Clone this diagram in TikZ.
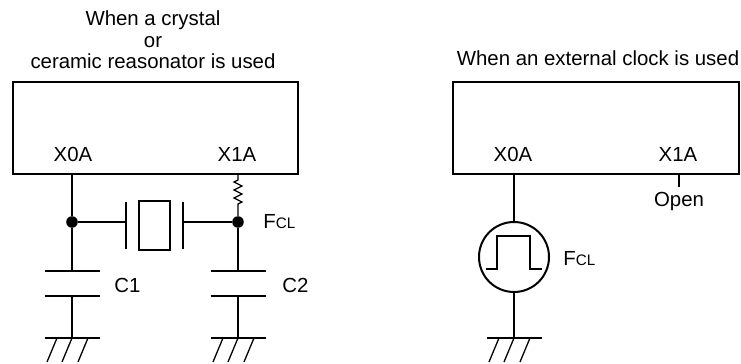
\documentclass[tikz,border=0pt]{standalone}
\usepackage{fontspec}
\setmainfont{Liberation Sans}
\usetikzlibrary{fit}
\begin{document}
\begin{tikzpicture}[x=0.5pt,y=-0.5pt,
  every node/.style={font=\fontsize{10.2}{10.75}\selectfont, inner sep=0pt},
  wire/.style={line width=0.65pt},
  chip/.style={draw, line width=1.1pt, inner sep=0pt},
  plate/.style={line width=1.4pt},
  dot/.style={circle, fill, minimum size=5.8pt, inner sep=0pt},
  lbl/.style={anchor=west},
  ground/.pic={
    \draw[line width=1.2pt] (-27.5,0) -- (27.5,0);
    \draw[line width=0.65pt] (-15,0) -- (-25,24) (0,0) -- (-10,24) (16,0) -- (6,24);
  }]
\newcommand{\fcl}{F{\fontsize{7.6}{8}\selectfont CL}}
\useasboundingbox (0,0) rectangle (741,364);

% ---------- left: crystal / ceramic resonator ----------
\node[align=center] (titleL) at (153,40) {When a crystal\\or\\ceramic reasonator is used};
\coordinate (L1) at (13,82); \coordinate (L2) at (298,174);
\node[chip, fit=(L1)(L2)] (chipL) {};
\node (x0aL) at (73,154) {X0A};
\node (x1aL) at (237,154) {X1A};
\coordinate (pL0) at (72,174);
\coordinate (pL1) at (238,174);
\node[dot] (jL) at (72,222) {};
\node[dot] (jR) at (238,222) {};

% resistor
\draw[wire] (pL1) -- (238,180) -- (234,182) -- (242,186) -- (234,190) -- (242,194)
  -- (234,198) -- (242,202) -- (238,204) -- (jR);
\draw[wire] (pL0) -- (jL);

% crystal
\coordinate (xtL) at (126,222);
\coordinate (xtR) at (183,222);
\draw[wire] (jL) -- (xtL);
\draw[wire] (xtR) -- (jR);
\draw[plate] (126,202) -- (126,249);
\draw[plate] (183,202) -- (183,249);
\node[draw, line width=1pt, minimum width=15.5pt, minimum height=24.5pt] (xtal) at (154.5,225.5) {};
\node[lbl] (fclL) at (263,222) {\fcl};

% capacitors
\coordinate (c1t) at (72,271); \coordinate (c1b) at (72,296);
\coordinate (c2t) at (238,271); \coordinate (c2b) at (238,296);
\coordinate (g1) at (72,338); \coordinate (g2) at (238,338);
\draw[wire] (jL) -- (c1t);
\draw[wire] (jR) -- (c2t);
\draw[plate] (c1t) ++(-27.5,0) -- ++(55,0);
\draw[plate] (c1b) ++(-27.5,0) -- ++(55,0);
\draw[plate] (c2t) ++(-27.5,0) -- ++(55,0);
\draw[plate] (c2b) ++(-27.5,0) -- ++(55,0);
\draw[wire] (c1b) -- (g1);
\draw[wire] (c2b) -- (g2);
\pic at (g1) {ground};
\pic at (g2) {ground};
\node[lbl] (c1) at (114,285) {C1};
\node[lbl] (c2) at (282,285) {C2};

% ---------- right: external clock ----------
\node (titleR) at (598,58) {When an external clock is used};
\coordinate (R1) at (453,82); \coordinate (R2) at (739,174);
\node[chip, fit=(R1)(R2)] (chipR) {};
\node (x0aR) at (513,154) {X0A};
\node (x1aR) at (678,154) {X1A};
\coordinate (pR0) at (514,174);
\coordinate (pR1) at (679,174);
\coordinate (openEnd) at (679,187);
\draw[wire] (pR1) -- (openEnd);
\node[anchor=north] (open) at (679,192) {Open};

\node[draw, circle, line width=1pt, minimum size=35pt] (clk) at (514,257) {};
\draw[wire] (486,269) -- (497,269) -- (497,236) -- (530,236) -- (530,269) -- (542,269);
\coordinate (g3) at (514,338);
\draw[wire] (pR0) -- (clk.north);
\draw[wire] (clk.south) -- (g3);
\pic at (g3) {ground};
\node[lbl] (fclR) at (563,259) {\fcl};
\end{tikzpicture}
\end{document}
